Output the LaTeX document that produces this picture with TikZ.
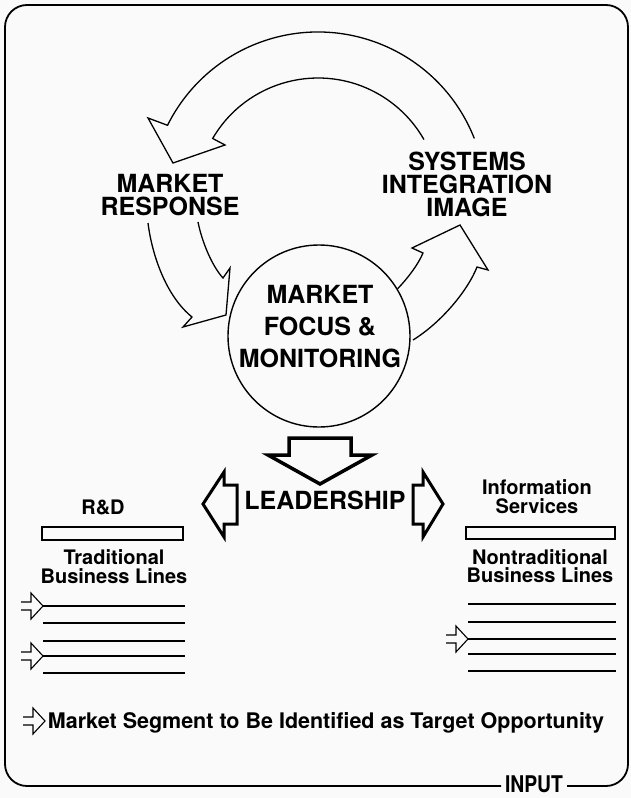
\documentclass[tikz,border=0pt]{standalone}
\usepackage{fontspec}
\usepackage{graphicx}
\setmainfont{TeX Gyre Heros}
\usetikzlibrary{calc}
\begin{document}
\begin{tikzpicture}[x=1pt,y=-1pt,
  big/.style={font=\bfseries\fontsize{25}{23}\selectfont, align=center, inner sep=0pt},
  small/.style={font=\bfseries\fontsize{20}{18.5}\selectfont, align=center, inner sep=0pt},
  flow/.style={line width=1.3pt, line join=miter, miter limit=10},
  block/.style={line width=3pt, line join=miter, miter limit=10},
  rule/.style={line width=1.3pt},
  bar/.style={draw, line width=1.2pt, inner sep=0pt},
  inarrow/.pic={\draw[line width=1.1pt, line join=miter]
    (-22,-4) -- (-12,-4) -- (-12,-13) -- (0,0) -- (-12,13) -- (-12,4) -- (-22,4);}
]
% page and frame
\fill[gray!4] (0,0) rectangle (631,798);
\useasboundingbox (0,0) rectangle (631,798);
\draw[line width=1.8pt, rounded corners=22pt]
  (501,786) -- (5,786) -- (5,5) -- (628,5) -- (628,786) -- (567,786);
\node[font=\bfseries\fontsize{23}{23}\selectfont, inner sep=0pt] (input) at (534,784.5)
  {\scalebox{0.84}[1]{INPUT}};

% the cycle
\coordinate (C) at (318,200);
\node[draw, circle, minimum size=182pt, line width=1.4pt, inner sep=0pt] (focus) at (319,336) {};
\node[big, font=\bfseries\fontsize{25}{32}\selectfont] (focuslbl) at (320,327) {MARKET\\FOCUS \&\\MONITORING};
\node[big] (response) at (170,195) {MARKET\\RESPONSE};
\node[big] (systems) at (467,184.5) {SYSTEMS\\INTEGRATION\\IMAGE};

% arc arrow from the systems label over the top to the response label
\draw[flow] ($(C)+(-21.5:168)$) arc[start angle=-21.5, end angle=-153.6, radius=168]
  -- (148,118) -- (173,163) -- (225,145)
  -- ($(C)+(-149.7:122)$) arc[start angle=-149.7, end angle=-29.7, radius=122];

% arrow from the response label down into the circle
\draw[flow] (148,223) .. controls (152,255) and (166,296) .. (192,317)
  -- (183,327) -- (226,315) -- (230,268) -- (223,278)
  .. controls (212,266) and (202,242) .. (198,222);

% arrow out of the circle up to the systems label
\draw[flow] (focus.31) .. controls (407,279) and (418,265) .. (423,253)
  -- (412,248) -- (460,225) -- (488,270) -- (477,267)
  .. controls (468,290) and (442,322) .. (413,340);

% leadership and its hollow arrows
\draw[line width=3.5pt, line join=miter, miter limit=10]
  (289,438) -- (351,438) -- (351,455) -- (372,455) -- (320,484) -- (268,455) -- (289,455) -- cycle;
\node[big] (lead) at (325,500) {LEADERSHIP};
\draw[block] (237,485) -- (224,485) -- (224,472) -- (203,504) -- (224,537) -- (224,524) -- (237,524) -- cycle;
\draw[block] (413,485) -- (423,485) -- (423,472) -- (443,504) -- (423,537) -- (423,524) -- (413,524) -- cycle;

% left column
\node[small, anchor=base] (rd) at (103,514) {R\&D};
\node[bar, minimum width=141pt, minimum height=13pt] (rdbar) at (112.5,533.5) {};
\node[small] (trad) at (114,566.5) {Traditional\\Business Lines};
\foreach \y [count=\i] in {606,623,641,656,673} {
  \coordinate (tl\i) at (43,\y);
  \coordinate (tr\i) at (185,\y);
  \draw[rule] (tl\i) -- (tr\i);
}
\pic at (tl1) {inarrow};
\pic at (tl4) {inarrow};

% right column
\node[small] (info) at (537,496.5) {Information\\Services};
\node[bar, minimum width=149pt, minimum height=12pt] (infobar) at (540.5,533) {};
\node[small] (nontrad) at (540,566) {Nontraditional\\Business Lines};
\foreach \y [count=\i] in {604,622,639,654,671} {
  \coordinate (nl\i) at (468,\y);
  \coordinate (nr\i) at (616,\y);
  \draw[rule] (nl\i) -- (nr\i);
}
\pic at (nl3) {inarrow};

% legend
\coordinate (legend) at (45,721);
\pic at (legend) {inarrow};
\node[font=\bfseries\fontsize{21.5}{21.5}\selectfont, inner sep=0pt, anchor=base] (segment) at (326,728)
  {Market Segment to Be Identified as Target Opportunity};
\end{tikzpicture}
\end{document}
